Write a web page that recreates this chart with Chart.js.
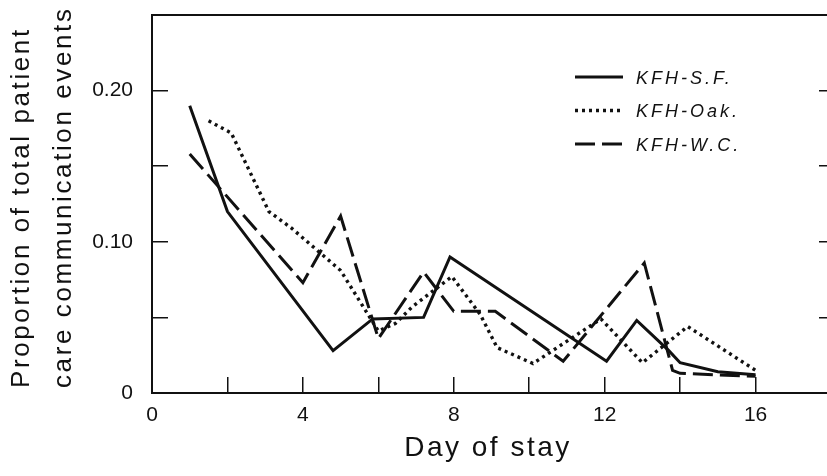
<!DOCTYPE html>
<html>
<head>
<meta charset="utf-8">
<script src="https://cdn.jsdelivr.net/npm/chart.js@4.4.0/dist/chart.umd.min.js"></script>
<style>
  html, body { margin: 0; padding: 0; background: #fff; overflow: hidden; }
  #wrap { width: 832px; height: 476px; }
</style>
</head>
<body>
<div id="wrap"><canvas id="chart" width="832" height="476"></canvas></div>
<script>
// values (day of stay -> proportion)
const sfDays = [1, 2, 4.8, 5.85, 7.2, 7.9, 12.05, 12.85, 13.7, 14, 15, 16];
const sfValues = [0.19, 0.12, 0.028, 0.049, 0.05, 0.09, 0.021, 0.048, 0.028, 0.02, 0.014, 0.012];

const oakDays = [1.5, 2.1, 3.1, 3.7, 5, 6, 6.45, 6.9, 7.95, 8.7, 9.15, 10.1, 11.9, 13, 14.2, 16];
const oakValues = [0.18, 0.172, 0.12, 0.109, 0.081, 0.041, 0.046, 0.057, 0.077, 0.052, 0.03, 0.0195, 0.049, 0.02, 0.044, 0.015];

const wcDays = [1, 4, 5, 6, 7.2, 8, 9.1, 10.9, 13.05, 13.8, 14, 16];
const wcValues = [0.158, 0.073, 0.117, 0.036, 0.08, 0.054, 0.054, 0.021, 0.086, 0.015, 0.013, 0.011];

const seriesNames = ['KFH-S.F.', 'KFH-Oak.', 'KFH-W.C.'];
const xTickLabels = [0, 4, 8, 12, 16];
const yTickLabels = ['0', '0.10', '0.20'];
const xTitle = 'Day of stay';
const yTitleLines = ['Proportion of total patient', 'care communication events'];

const ink = '#111';
const dashes = [[], [3, 4], [20, 7]];
const widths = [3, 3.4, 3];

function toPoints(days, values) {
    return days.map((d, i) => ({ x: d, y: values[i] }));
}

// pin the scale sizes so the plot frame lands where it does in the figure
function pin(size, key) {
    return s => {
        s[key] = size;
        s.paddingLeft = s.paddingRight = s.paddingTop = s.paddingBottom = 0;
    };
}

// legend + axis titles drawn by hand (spaced lettering like the original)
const annotations = {
    id: 'annotations',
    afterDraw(chart) {
        const ctx = chart.ctx;
        const area = chart.chartArea;
        ctx.save();
        ctx.fillStyle = ink;
        ctx.strokeStyle = ink;

        // legend
        const lx = area.left + 423;
        const ly = area.top + 62;
        ctx.font = 'italic 18px "Liberation Sans"';
        ctx.letterSpacing = '3px';
        ctx.textAlign = 'left';
        ctx.textBaseline = 'alphabetic';
        seriesNames.forEach((name, i) => {
            const y = ly + i * 33.5;
            ctx.lineWidth = widths[i];
            ctx.setLineDash(dashes[i]);
            ctx.beginPath();
            ctx.moveTo(lx, y);
            ctx.lineTo(lx + 48, y);
            ctx.stroke();
            ctx.setLineDash([]);
            ctx.fillText(name, lx + 61, y + 6.5);
        });

        // x title
        ctx.font = '28px "Liberation Sans"';
        ctx.letterSpacing = '2.5px';
        ctx.textAlign = 'center';
        ctx.fillText(xTitle, area.left + 336, area.bottom + 63);

        // y title, two lines rotated
        ctx.font = '26px "Liberation Sans"';
        ctx.letterSpacing = '2.6px';
        ctx.textAlign = 'left';
        yTitleLines.forEach((line, i) => {
            ctx.save();
            ctx.translate(29 + i * 42, area.bottom - 5);
            ctx.rotate(-Math.PI / 2);
            ctx.fillText(line, 0, 0);
            ctx.restore();
        });
        ctx.restore();
    }
};

const tickFont = { family: '"Liberation Sans"', size: 21 };

new Chart(document.getElementById('chart'), {
    type: 'line',
    data: {
        datasets: [
            { label: seriesNames[0], data: toPoints(sfDays, sfValues) },
            { label: seriesNames[1], data: toPoints(oakDays, oakValues) },
            { label: seriesNames[2], data: toPoints(wcDays, wcValues) }
        ].map((ds, i) => Object.assign(ds, {
            borderColor: ink,
            borderWidth: widths[i],
            borderDash: dashes[i],
            pointRadius: 0,
            tension: 0,
            fill: false
        }))
    },
    options: {
        responsive: false,
        animation: false,
        layout: { padding: { top: 15, left: 0, right: 0, bottom: 0 } },
        plugins: {
            legend: { display: false },
            tooltip: { enabled: false }
        },
        scales: {
            x: {
                type: 'linear',
                position: 'bottom',
                min: 0,
                max: 18,
                border: { display: true, color: ink, width: 2 },
                grid: { drawOnChartArea: false, tickLength: -16, color: ink, lineWidth: 1.5 },
                ticks: {
                    stepSize: 2,
                    padding: 26,
                    color: ink,
                    font: tickFont,
                    maxRotation: 0,
                    autoSkip: false,
                    callback: v => xTickLabels.includes(v) ? String(v) : ''
                },
                afterFit: pin(83, 'height')
            },
            xTop: {
                type: 'linear',
                position: 'top',
                min: 0,
                max: 18,
                border: { display: true, color: ink, width: 2 },
                grid: { display: false },
                ticks: { display: false },
                afterFit: pin(0, 'height')
            },
            y: {
                position: 'left',
                min: 0,
                max: 0.25,
                border: { display: true, color: ink, width: 2 },
                grid: { drawOnChartArea: false, tickLength: -16, color: ink, lineWidth: 1.5 },
                ticks: {
                    stepSize: 0.05,
                    padding: 35,
                    color: ink,
                    font: tickFont,
                    callback: v => {
                        const k = Math.round(v * 100);
                        return k % 10 === 0 && k <= 20 ? yTickLabels[k / 10] : '';
                    }
                },
                afterFit: pin(152, 'width')
            },
            yRight: {
                position: 'right',
                min: 0,
                max: 0.25,
                border: { display: true, color: ink, width: 2 },
                grid: { drawOnChartArea: false, tickLength: -12, color: ink, lineWidth: 1.5 },
                ticks: { display: false, stepSize: 0.05 },
                afterFit: pin(1, 'width')
            }
        }
    },
    plugins: [annotations]
});
</script>
</body>
</html>
